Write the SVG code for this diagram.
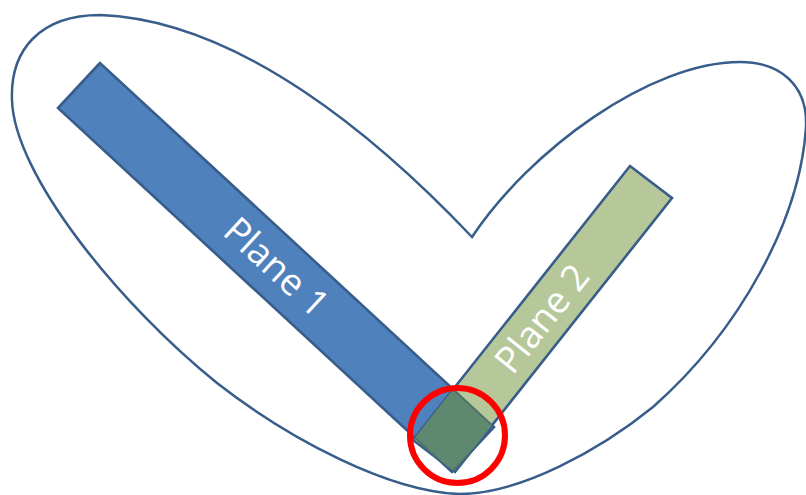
<svg xmlns="http://www.w3.org/2000/svg" width="806" height="495" viewBox="0 0 806 495">
<style>
.outline{fill:none;stroke:#385d8a;stroke-width:2.5}
.plane{stroke:#385d8a;stroke-width:2.6;stroke-linejoin:miter}
.lbl{font-family:"Open Sans","Liberation Sans",sans-serif;font-size:37px;fill:#ffffff;text-anchor:middle}
</style>
<defs>
<clipPath id="clipG"><polygon points="630,166 672,198 455,472 413,440"/></clipPath>
</defs>
<rect width="806" height="495" fill="#ffffff"/>
<g id="region">
<path class="outline" d="M472,237 C380,140 240,20 100,15 C40,15 10,50 12,100 C14,175 120,305 217,383 C290,440 390,492 460,494 C520,494 600,450 653,407 C740,330 800,220 806,127 C808,85 780,62 740,62 C650,62 530,150 472,237 Z"/>
</g>
<g id="plane1">
<polygon class="plane" fill="#4f81bd" points="100,63 58,108 452,472 494,427"/>
<text class="lbl" transform="translate(276,267.5) rotate(42.66)" dy="0.33em">Plane 1</text>
</g>
<g id="plane2">
<polygon class="plane" fill="#b6c799" points="630,166 672,198 455,472 413,440"/>
<text class="lbl" transform="translate(542.5,319) rotate(-51.6)" dy="0.33em">Plane 2</text>
</g>
<g id="overlap">
<polygon clip-path="url(#clipG)" fill="#5f8870" stroke="#4d7268" stroke-width="2" points="100,63 58,108 452,472 494,427"/>
</g>
<g id="highlight">
<circle cx="457.5" cy="435.5" r="47.5" fill="none" stroke="#ff0000" stroke-width="6"/>
</g>
</svg>
